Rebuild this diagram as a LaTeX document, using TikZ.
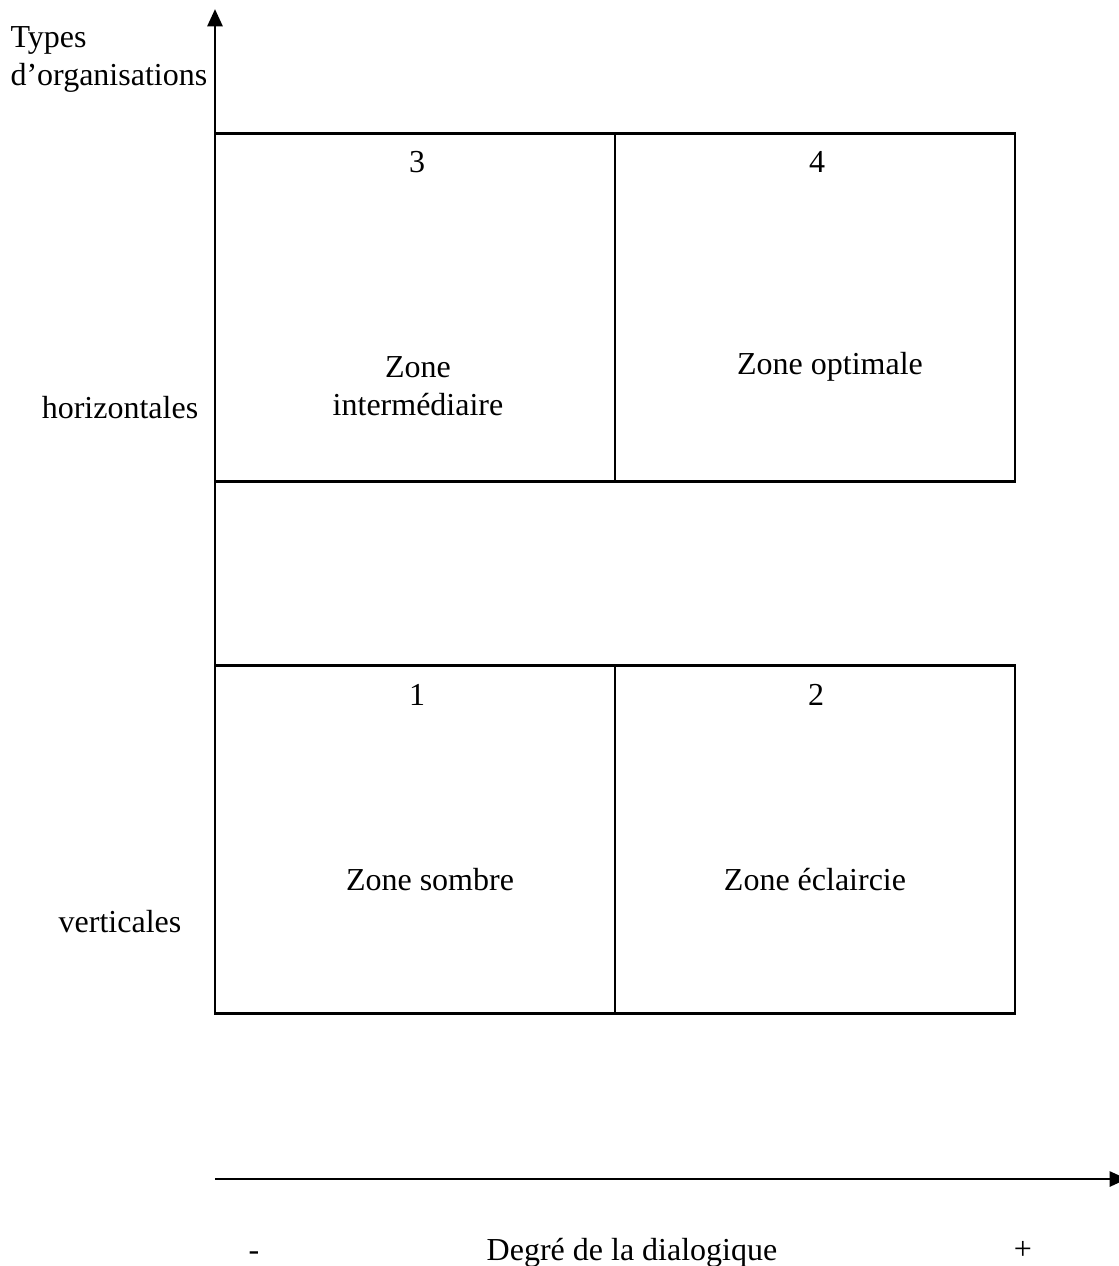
\documentclass[tikz,border=0pt]{standalone}
\usepackage{fontspec}
\setmainfont{Liberation Serif}
\usetikzlibrary{arrows.meta,positioning}

\begin{document}
\begin{tikzpicture}[
            x=0.375pt,
            y=-0.375pt,
            font=\fontsize{12}{14.25}\selectfont,
            zone/.style={
                draw,
                line width=1.05pt,
                minimum width=150pt,
                minimum height=130.5pt,
                inner sep=0pt,
                outer sep=0pt
            },
            lbl/.style={
                align=center,
                inner sep=0pt
            },
            axis/.style={
                line width=1.1pt,
                -{Triangle[length=6.5pt,width=5.6pt]}
            }
        ]

            \useasboundingbox (0,0) rectangle (1119,1266);

            % --- Zones (bottom row, then top row) ---
            \node[zone] (Z1) at (415,839.5) {};
            \node[zone, right=0pt of Z1] (Z2) {};
            \node[zone, above=69pt of Z1] (Z3) {};
            \node[zone, right=0pt of Z3] (Z4) {};

            % --- Zone numbers ---
            \node[lbl] (n3) at (417,162) {3};
            \node[lbl] (n4) at (817,162) {4};
            \node[lbl] (n1) at (417,695) {1};
            \node[lbl] (n2) at (816,695) {2};

            % --- Zone names ---
            \node[lbl] (t3) at (418,386) {Zone\\intermédiaire};
            \node[lbl] (t4) at (830,367) {Zone optimale};
            \node[lbl] (t1) at (430,880) {Zone sombre};
            \node[lbl] (t2) at (815,880) {Zone éclaircie};

            % --- Axis labels ---
            \node[lbl, align=left, anchor=north west] (yl) at (10,26) {Types\\d’organisations};
            \node[lbl] (hz) at (120,408) {horizontales};
            \node[lbl] (vt) at (120,922) {verticales};
            \node[lbl, anchor=base] (mn) at (254,1260) {-};
            \node[lbl, anchor=base] (dd) at (632,1260) {Degré de la dialogique};
            \node[lbl, anchor=base] (pl) at (1023,1259) {+};

            % --- Axes ---
            \coordinate (ytip) at (215,9);
            \coordinate (x0) at (215,1179);
            \coordinate (xtip) at (1127,1179);
            \draw[axis] (Z1.south west) -- (ytip);
            \draw[axis] (x0) -- (xtip);
        \end{tikzpicture}
\end{document}
